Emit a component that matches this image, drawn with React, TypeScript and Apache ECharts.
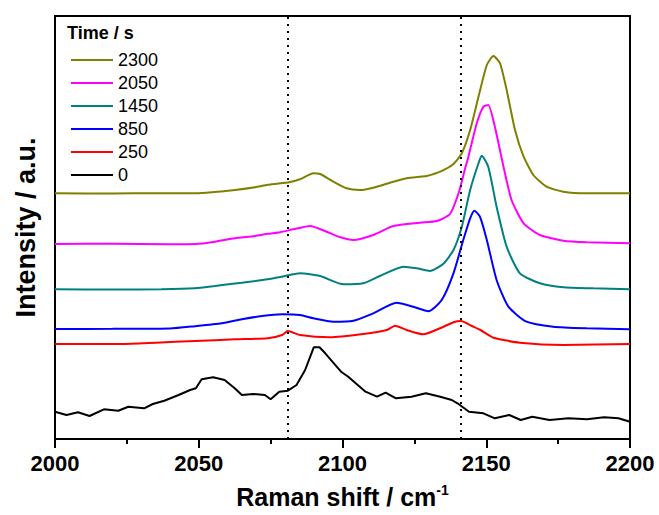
import React, { useEffect, useRef } from "react";
import * as echarts from "echarts";

// Raman shift (cm-1) / intensity (a.u.) pairs
const s2300 = [
  [2000, 245.7], [2020, 245.5], [2035, 245.8], [2049, 245.7], [2054.5, 246.7],
  [2062.6, 249], [2069.6, 251.7], [2074, 254.2], [2078.3, 255.7], [2081, 256.5],
  [2085.2, 259.7], [2089.9, 265.7], [2092.2, 265], [2096.8, 257.3], [2101.4, 250.7],
  [2106.1, 249], [2110.7, 251.3], [2117.7, 257.3], [2122.3, 260.7], [2127, 262.3],
  [2129.3, 263], [2134, 267.3], [2138.6, 275], [2141.5, 285.7], [2144.4, 309],
  [2147.3, 342.3], [2150.2, 374], [2152.5, 383], [2154.8, 375.7], [2157.1, 349],
  [2160, 309], [2163, 282.3], [2166.4, 264], [2171, 252.3], [2176.8, 247.3],
  [2185, 245.7], [2200, 245.7],
];
const s2050 = [
  [2000, 195], [2020, 195.3], [2040, 194.8], [2049, 195], [2055.6, 197.3],
  [2062.6, 200.7], [2069.6, 203], [2074, 205.2], [2078.3, 206.8], [2082.9, 209.7],
  [2088.7, 213], [2094.5, 207.3], [2099, 202], [2103.8, 199], [2110.7, 204],
  [2117.7, 213], [2127, 216.3], [2132.8, 218], [2137.4, 225], [2140.5, 247],
  [2142.6, 270], [2143.8, 282.3], [2146.7, 315.7], [2149, 332.3], [2150.7, 334],
  [2153, 312.3], [2156, 272.3], [2158.8, 239], [2163, 215.7], [2168.7, 204],
  [2176.8, 198.3], [2185, 196.7], [2200, 195.7],
];
const s1450 = [
  [2000, 149.7], [2020, 149.5], [2037, 149.7], [2048.7, 150.7], [2055.6, 153],
  [2065, 156.3], [2074, 159.7], [2078.3, 162], [2085.2, 165.7], [2092.2, 163],
  [2100.3, 154.7], [2107.2, 155.7], [2113, 163], [2121.2, 172.3], [2125.8, 170.7],
  [2130.4, 168], [2135, 175], [2138.6, 189], [2141.5, 212.3], [2144.4, 249],
  [2147.3, 275.7], [2148.4, 283.3], [2150.7, 272.3], [2153.6, 232.3], [2157.1, 192.3],
  [2161.7, 165.7], [2168.7, 155.7], [2176.8, 151.7], [2187.3, 150.7], [2200, 149.7],
];
const s850 = [
  [2000, 110], [2020, 110.2], [2040, 110.5], [2048.7, 112.8], [2058, 115.7],
  [2065, 119.7], [2072, 123], [2079, 124.7], [2085.2, 124], [2089.9, 120.7],
  [2096.8, 117.3], [2103.8, 118.3], [2110.7, 125.7], [2118.8, 136.3], [2124.6, 132.3],
  [2129.9, 127.8], [2134.5, 139], [2138.6, 165.7], [2142, 199], [2144.4, 220.7],
  [2145.9, 228.3], [2147.8, 222.3], [2150.2, 199], [2153.6, 159], [2157.7, 132.3],
  [2164, 117.3], [2173.3, 112.3], [2185, 110.7], [2200, 109.7],
];
const s250 = [
  [2000, 95], [2023, 95], [2035, 96.3], [2048.7, 98], [2062.6, 99.7],
  [2074, 100.7], [2079, 104], [2081, 108], [2085.2, 104], [2095.6, 101.7],
  [2107.2, 105], [2115.4, 109], [2118.3, 113.3], [2122.3, 109], [2128.1, 104.7],
  [2133.9, 110.7], [2138.6, 116.7], [2141.2, 118], [2145, 113], [2148, 109],
  [2152.5, 101.3], [2161.7, 96.3], [2176.8, 94], [2200, 95],
];
const s0 = [
  [2000, 27.3], [2004, 24], [2008, 26.7], [2012, 23], [2017, 29.7], [2022, 28.3],
  [2025.5, 32.3], [2031, 30.7], [2034, 35], [2038, 38.3], [2043, 44], [2047, 49],
  [2049, 50.7], [2051, 59.7], [2055, 61.7], [2059, 59], [2062.5, 50.7], [2065, 44],
  [2069, 45], [2073, 44], [2075, 39.7], [2078, 47.3], [2081, 48.3], [2084, 54],
  [2087, 69], [2090, 91.7], [2092, 91.7], [2094, 85.7], [2097, 75.7], [2099.5, 67.3],
  [2102, 62.3], [2104.6, 55.7], [2108, 47.3], [2112, 42.3], [2115, 46.3],
  [2118.6, 40.7], [2124, 42.3], [2129, 45.7], [2134, 42.3], [2138, 39], [2140, 35.7],
  [2144, 27.3], [2149, 25.7], [2153, 20.7], [2158, 24], [2162, 19], [2166, 22.3],
  [2172, 19], [2178.6, 20.7], [2185, 19.7], [2191, 21.7], [2196, 20.7], [2200, 17.3],
];

const times = ["2300", "2050", "1450", "850", "250", "0"];
const spectra = [s2300, s2050, s1450, s850, s250, s0];
const colors = ["#808000", "#ff00ff", "#008080", "#0000ff", "#ff0000", "#000000"];
const guideShifts = [2081, 2141];

const FONT = '"Liberation Sans", Arial, sans-serif';

const App: React.FC = () => {
  const chartRef = useRef<HTMLDivElement>(null);

  useEffect(() => {
    if (!chartRef.current) return;
    const chart = echarts.init(chartRef.current, null, { renderer: "svg" });

    const series: any[] = times.map((t, i) => ({
      name: t,
      type: "line",
      data: spectra[i],
      symbol: "none",
      smooth: i === 5 ? false : 0.2,
      lineStyle: { color: colors[i], width: 2 },
      itemStyle: { color: colors[i] },
      z: 3,
    }));

    // dotted guides at the two band positions
    series[5].markLine = {
      silent: true,
      symbol: ["none", "none"],
      label: { show: false },
      lineStyle: { type: [2, 5], color: "#000", width: 2 },
      data: guideShifts.map((x) => ({ xAxis: x })),
    };

    chart.setOption({
      animation: false,
      textStyle: { fontFamily: FONT },
      grid: {
        left: 55,
        top: 16,
        width: 575,
        height: 423,
        show: true,
        borderColor: "#000",
        borderWidth: 2,
      },
      legend: {
        data: times,
        orient: "vertical",
        left: 66,
        top: 46,
        icon: "rect",
        itemWidth: 42,
        itemHeight: 2,
        itemGap: 5,
        textStyle: { fontSize: 18, color: "#000", lineHeight: 18, fontFamily: FONT },
      },
      graphic: [
        {
          type: "text",
          left: 67,
          top: 24,
          style: { text: "Time / s", font: `bold 18px ${FONT}`, fill: "#000" },
        },
      ],
      xAxis: {
        type: "value",
        min: 2000,
        max: 2200,
        interval: 50,
        name: "{a|Raman shift / cm}{b|-1}",
        nameLocation: "middle",
        nameGap: 44,
        nameTextStyle: {
          rich: {
            a: { fontSize: 25, fontWeight: "bold", color: "#000", lineHeight: 28, fontFamily: FONT },
            b: { fontSize: 14, fontWeight: "bold", color: "#000", lineHeight: 14, verticalAlign: "top", fontFamily: FONT },
          },
        },
        axisLine: { lineStyle: { color: "#000", width: 2 } },
        axisTick: { inside: false, length: 9, lineStyle: { color: "#000", width: 2 } },
        minorTick: { show: true, splitNumber: 2, length: 5, lineStyle: { color: "#000", width: 2 } },
        axisLabel: {
          fontSize: 22,
          fontWeight: "bold",
          color: "#000",
          margin: 13,
          fontFamily: FONT,
          formatter: (v: number) => String(v),
        },
        splitLine: { show: false },
      },
      yAxis: {
        type: "value",
        min: 0,
        max: 423,
        name: "Intensity / a.u.",
        nameLocation: "middle",
        nameRotate: 90,
        nameGap: 16,
        nameTextStyle: { fontSize: 27, fontWeight: "bold", color: "#000", fontFamily: FONT },
        axisLine: { show: true, lineStyle: { color: "#000", width: 2 } },
        axisTick: { show: false },
        axisLabel: { show: false },
        splitLine: { show: false },
      },
      series,
    });

    return () => {
      chart.dispose();
    };
  }, []);

  return (
    <div
      ref={chartRef}
      style={{ position: "fixed", left: 0, top: 0, width: 659, height: 515, background: "#fff" }}
    ></div>
  );
};

export default App;
